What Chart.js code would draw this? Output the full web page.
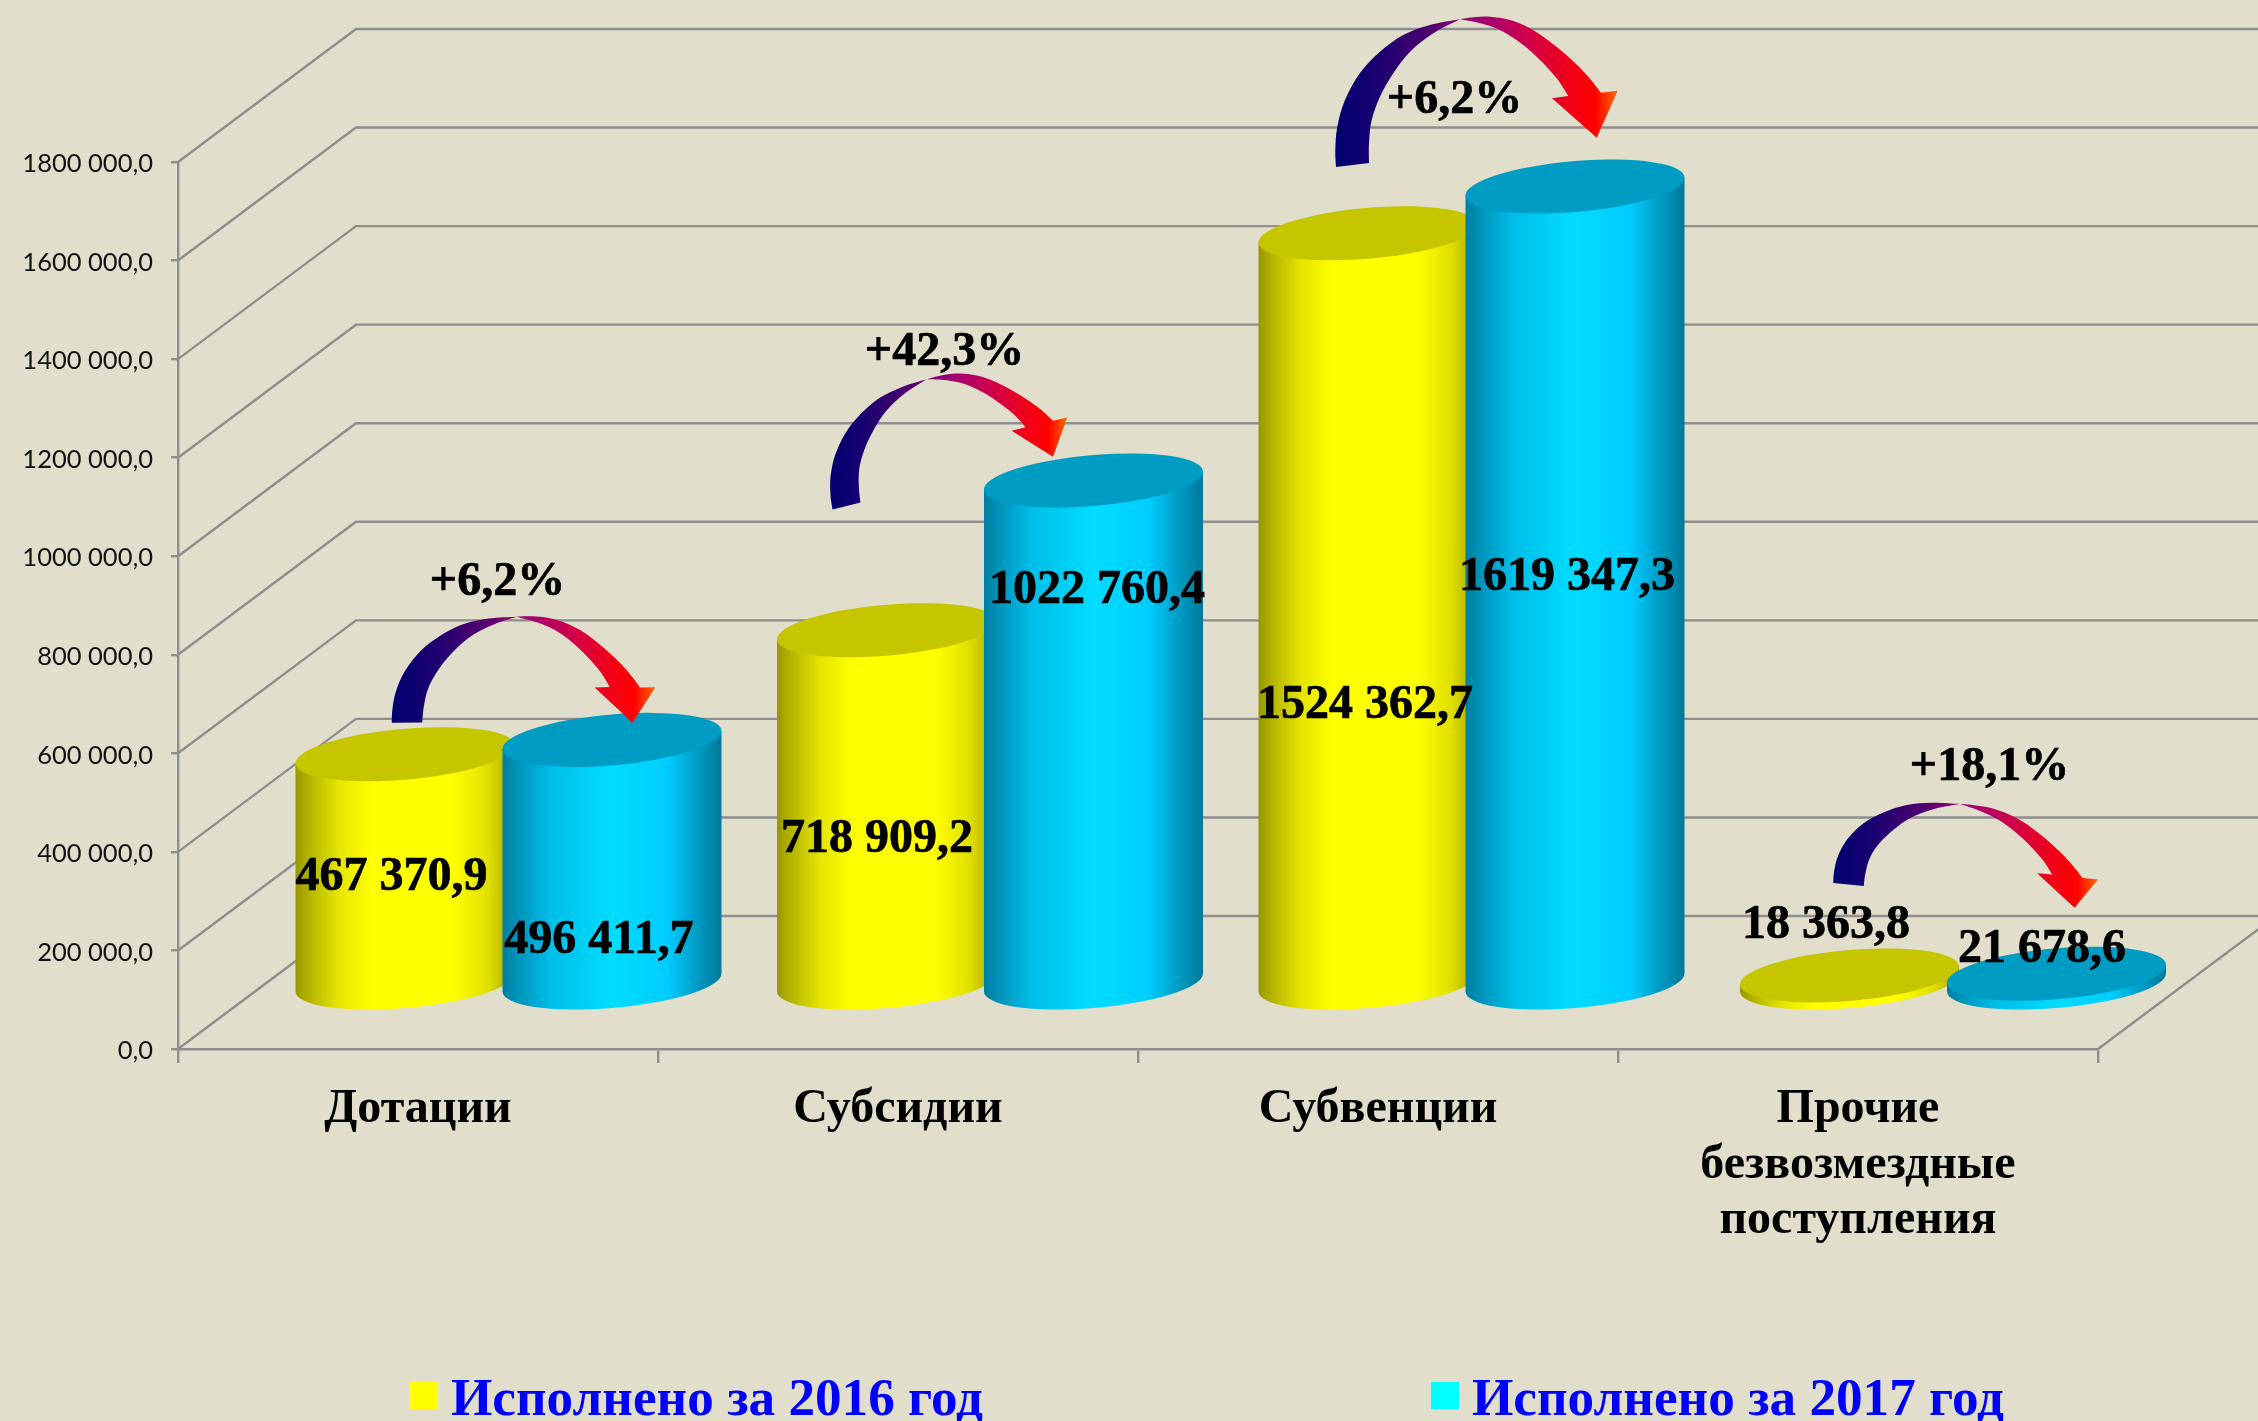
<!DOCTYPE html>
<html>
<head>
<meta charset="utf-8">
<style>
  html, body { margin: 0; padding: 0; background: #E1DFCB; overflow: hidden; }
</style>
<script src="https://cdn.jsdelivr.net/npm/chart.js@4/dist/chart.umd.min.js"></script>
</head>
<body>
<canvas id="plot_canvas" width="2258" height="1421"></canvas>
<script>
const categories = ["Дотации", "Субсидии", "Субвенции", ["Прочие", "безвозмездные", "поступления"]];
const values2016 = [467370.9, 718909.2, 1524362.7, 18363.8];
const values2017 = [496411.7, 1022760.4, 1619347.3, 21678.6];
const seriesNames = ["Исполнено за 2016 год", "Исполнено за 2017 год"];
const yTickLabels = ["0,0", "200 000,0", "400 000,0", "600 000,0", "800 000,0", "1000 000,0", "1200 000,0", "1400 000,0", "1600 000,0", "1800 000,0"];
const growthLabels = ["+6,2%", "+42,3%", "+6,2%", "+18,1%"];

// oblique depth of the floor, px
const DEPTH_X = 178, DEPTH_Y = 133;
const GRID = "#8f8f8f";
const SERIF = '"Liberation Serif", serif';

// where the value labels sit, relative to the centre of the cylinder top
const labelDx = [[-13.5, -9.5, -3, -23.5], [-13, 3.5, -8, -14.5]];
const labelDy = [[137.8, 223.3, 486.2, -35.5], [215.1, 124, 405, -9.8]];

const growthPos = [[497.5, 595], [944.5, 365], [1454.5, 113], [1989.5, 780]];

// one arrow outline, traced around the third arrow
const arrowOuter = [[1336,167],[1335.3,150],[1337.3,126.7],[1345,100],[1360,73],[1380,51.7],[1403.3,35],[1430,25],[1460,19.3],
  [1473.3,17.3],[1490,16.7],[1510,20],[1530,28.3],[1550,41.7],[1570,58.3],[1586.7,75],[1601,92.7]];
const arrowHead = [[1617.7,90.7],[1596.7,137.7],[1552,98.3],[1568.3,96]];
const arrowInnerRight = [[1568.3,96],[1556.7,78.3],[1540,60],[1523.3,45],[1503.3,31.7],[1483.3,24],[1460,19.3]];
const arrowInnerLeft = [[1460,19.3],[1433.3,33.3],[1410,51.7],[1393.3,73.3],[1380,96.7],[1371.7,120],[1369,143],[1369,163]];
const arrowFrom = {tail: [1352.5,165], pinch: [1460,19.3], tip: [1596.7,137.7]};
// the four arrows: same outline sheared onto these anchors
const arrowAnchors = [
  {tail: [407,722.7], pinch: [516.7,616.7], tip: [632.5,722.7]},
  {tail: [846.5,506], pinch: [926.7,379.3], tip: [1053,456.7]},
  arrowFrom,
  {tail: [1848.5,884.5], pinch: [1960,804], tip: [2074.5,907.7]}
];

const looks = [
  {top: "#C6C600", legend: "#FFFF00",
   side: [[0,"#989800"],[0.06,"#b3b300"],[0.2,"#e6e600"],[0.35,"#ffff00"],[0.72,"#ffff00"],[0.88,"#e0e000"],[1,"#a2a200"]]},
  {top: "#009CC4", legend: "#00FFFF",
   side: [[0,"#007FA0"],[0.08,"#0096bd"],[0.22,"#00bfe8"],[0.5,"#00dcff"],[0.75,"#00cdff"],[0.9,"#0098c0"],[1,"#00799a"]]}
];

function drawWalls(chart) {
  const ctx = chart.ctx, y = chart.scales.y, area = chart.chartArea;
  ctx.save();
  ctx.strokeStyle = GRID;
  ctx.lineWidth = 2.4;
  y.ticks.forEach(t => {
    const py = y.getPixelForValue(t.value);
    ctx.beginPath();
    ctx.moveTo(area.left, py);
    ctx.lineTo(area.left + DEPTH_X, py - DEPTH_Y);
    ctx.lineTo(area.right + DEPTH_X, py - DEPTH_Y);
    ctx.stroke();
  });
  ctx.beginPath();
  ctx.moveTo(area.right, area.bottom);
  ctx.lineTo(area.right + DEPTH_X, area.bottom - DEPTH_Y);
  ctx.stroke();
  ctx.restore();
}

function drawCylinder(ctx, cx, topY, baseY, a, look) {
  const b = 25.5, tilt = -9 / a;
  const h = baseY - topY;
  ctx.save();
  ctx.translate(cx, topY);
  ctx.transform(1, tilt, 0, 1, 0, 0);

  const grad = ctx.createLinearGradient(-a, 0, a, 0);
  look.side.forEach(s => grad.addColorStop(s[0], s[1]));
  ctx.fillStyle = grad;
  ctx.beginPath();
  ctx.moveTo(-a, 0);
  ctx.lineTo(-a, h);
  ctx.ellipse(0, h, a, b, 0, Math.PI, 0, true);
  ctx.lineTo(a, 0);
  ctx.closePath();
  ctx.fill();

  ctx.fillStyle = look.top;
  ctx.beginPath();
  ctx.ellipse(0, 0, a, b, 0, 0, Math.PI * 2);
  ctx.fill();
  ctx.restore();
}

function fmt(v) {
  const whole = Math.floor(v);
  const dec = Math.round((v - whole) * 10);
  const low = String(whole % 1000).padStart(3, "0");
  return Math.floor(whole / 1000) + " " + low + "," + dec;
}

// catmull-rom through the traced points, starting from the current point pts[0]
function smooth(ctx, pts) {
  for (let i = 0; i < pts.length - 1; i++) {
    const p0 = pts[Math.max(i - 1, 0)], p1 = pts[i], p2 = pts[i + 1], p3 = pts[Math.min(i + 2, pts.length - 1)];
    ctx.bezierCurveTo(
      p1[0] + (p2[0] - p0[0]) / 6, p1[1] + (p2[1] - p0[1]) / 6,
      p2[0] - (p3[0] - p1[0]) / 6, p2[1] - (p3[1] - p1[1]) / 6,
      p2[0], p2[1]);
  }
}

// affine map that takes arrowFrom onto the given anchors
function arrowMap(to) {
  const f = arrowFrom;
  const ax = f.tail[0] - f.pinch[0], ay = f.tail[1] - f.pinch[1];
  const bx = f.tip[0] - f.pinch[0], by = f.tip[1] - f.pinch[1];
  const cx = to.tail[0] - to.pinch[0], cy = to.tail[1] - to.pinch[1];
  const dx = to.tip[0] - to.pinch[0], dy = to.tip[1] - to.pinch[1];
  const det = ax * by - bx * ay;
  const m11 = (cx * by - dx * ay) / det, m12 = (dx * ax - cx * bx) / det;
  const m21 = (cy * by - dy * ay) / det, m22 = (dy * ax - cy * bx) / det;
  return p => {
    const ux = p[0] - f.pinch[0], uy = p[1] - f.pinch[1];
    return [to.pinch[0] + m11 * ux + m12 * uy, to.pinch[1] + m21 * ux + m22 * uy];
  };
}

function drawArrow(ctx, anchors) {
  const m = arrowMap(anchors);
  const outer = arrowOuter.map(m), head = arrowHead.map(m), innerR = arrowInnerRight.map(m), innerL = arrowInnerLeft.map(m);
  const xs = outer.concat(head).map(p => p[0]);
  const grad = ctx.createLinearGradient(Math.min(...xs), 0, Math.max(...xs), 0);
  grad.addColorStop(0, "#000070");
  grad.addColorStop(0.15, "#1a0070");
  grad.addColorStop(0.34, "#500070");
  grad.addColorStop(0.44, "#860072");
  grad.addColorStop(0.55, "#aa006c");
  grad.addColorStop(0.69, "#d20048");
  grad.addColorStop(0.83, "#f20018");
  grad.addColorStop(0.92, "#ff0000");
  grad.addColorStop(1, "#ff6a00");
  ctx.fillStyle = grad;
  ctx.beginPath();
  ctx.moveTo(outer[0][0], outer[0][1]);
  smooth(ctx, outer);
  head.forEach(p => ctx.lineTo(p[0], p[1]));
  smooth(ctx, innerR);
  smooth(ctx, innerL);
  ctx.closePath();
  ctx.fill();
}

function heavyText(ctx, t, x, y) {
  ctx.fillText(t, x, y);
  ctx.strokeText(t, x, y);
}

const cylinders = {
  id: "cylinders",
  beforeDatasetsDraw(chart) {
    drawWalls(chart);
  },
  afterDatasetsDraw(chart) {
    const ctx = chart.ctx, base = chart.scales.y.getPixelForValue(0);
    const centre = (el, i) => el.x + DEPTH_X / 2 + 1.5 + i * 1.5;
    // cylinders, the 2017 one overlaps the 2016 one
    categories.forEach((c, i) => {
      chart.data.datasets.forEach((ds, s) => {
        const el = chart.getDatasetMeta(s).data[i];
        drawCylinder(ctx, centre(el, i), el.y - DEPTH_Y / 2 + 2, base - DEPTH_Y / 2, el.width / 2, looks[s]);
      });
    });
    arrowAnchors.forEach(a => drawArrow(ctx, a));

    ctx.save();
    ctx.fillStyle = "#000";
    ctx.strokeStyle = "#000";
    ctx.lineWidth = 0.7;
    ctx.textAlign = "center";
    ctx.textBaseline = "alphabetic";
    ctx.font = "bold 48px " + SERIF;
    chart.data.datasets.forEach((ds, s) => {
      chart.getDatasetMeta(s).data.forEach((el, i) => {
        heavyText(ctx, fmt(ds.data[i]), centre(el, i) + labelDx[s][i], el.y - DEPTH_Y / 2 + labelDy[s][i]);
      });
    });
    growthLabels.forEach((t, i) => heavyText(ctx, t, growthPos[i][0], growthPos[i][1]));

    // legend
    ctx.textAlign = "left";
    ctx.font = "bold 53.2px " + SERIF;
    [410, 1431].forEach((x, s) => {
      ctx.fillStyle = looks[s].legend;
      ctx.fillRect(x, 1382, 28, 27);
      ctx.fillStyle = "#0000FF";
      ctx.fillText(seriesNames[s], x + 41, 1415);
    });
    ctx.restore();
  }
};

const axisGrid = {
  drawOnChartArea: false,
  drawTicks: true,
  color: GRID,
  lineWidth: 2.4
};

new Chart(document.getElementById("plot_canvas"), {
  type: "bar",
  data: {
    labels: categories,
    datasets: [
      {label: seriesNames[0], data: values2016, backgroundColor: "rgba(0,0,0,0)"},
      {label: seriesNames[1], data: values2017, backgroundColor: "rgba(0,0,0,0)"}
    ]
  },
  options: {
    responsive: false,
    animation: false,
    categoryPercentage: 0.8625,
    barPercentage: 1.058,
    layout: {padding: {left: 0, top: 162, right: 160, bottom: 0}},
    plugins: {legend: {display: false}, tooltip: {enabled: false}},
    scales: {
      x: {
        afterFit: s => { s.height = 372; },
        grid: Object.assign({}, axisGrid, {tickLength: 14}),
        border: {color: GRID, width: 2.4},
        ticks: {
          color: "#000",
          autoSkip: false,
          maxRotation: 0,
          minRotation: 0,
          padding: 19,
          font: {family: SERIF, size: 48, weight: "bold", lineHeight: 1.155}
        }
      },
      y: {
        min: 0,
        max: 1800000,
        afterFit: s => { s.width = 178; },
        grid: Object.assign({}, axisGrid, {tickLength: 7}),
        border: {color: GRID, width: 2.4},
        ticks: {
          stepSize: 200000,
          color: "#111",
          padding: 18,
          labelOffset: 2,
          font: {family: "Lato", size: 25.5},
          callback: (v, i) => yTickLabels[i]
        }
      }
    }
  },
  plugins: [cylinders]
});
</script>
</body>
</html>
